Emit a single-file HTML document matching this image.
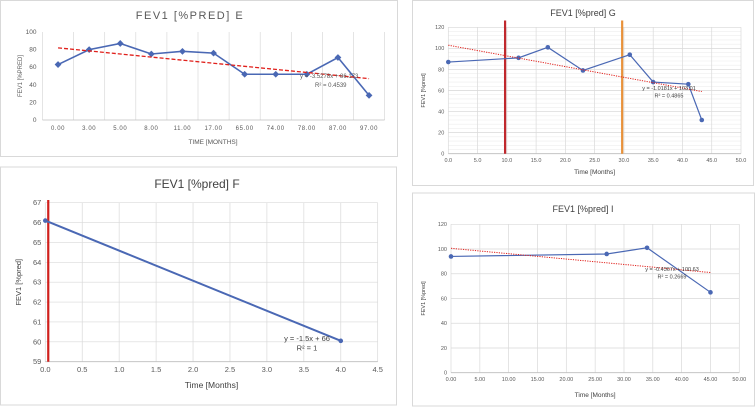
<!DOCTYPE html>
<html><head><meta charset="utf-8"><style>
html,body{margin:0;padding:0;background:#fff;}
svg{display:block;font-family:"Liberation Sans",sans-serif;}
</style></head><body>
<svg id="s" width="756" height="407" viewBox="0 0 756 407" xmlns="http://www.w3.org/2000/svg"></svg>
<script>
// Chart E
const eCats = ["0.00","3.00","5.00","8.00","11.00","17.00","65.00","74.00","78.00","87.00","97.00"];
const eVals = [63,80,87,75,78,76,52,52,52,71,28];
const eTrend = [82,47];
const eYTicks = [0,20,40,60,80,100];
// Chart G
const gX = [0,12,17,23,31,35,41,43.3];
const gY = [87,91,101,79,94,68,66,32];
const gTrend = [103.0,59];
const gMarkers = [9.7,29.7];
const gXTicks = [0,5,10,15,20,25,30,35,40,45,50];
const gYTicks = [0,20,40,60,80,100,120];
// Chart F
const fX = [0,4];
const fY = [66.1,60.05];
const fTrend = [66,60];
const fXTicks = [0,0.5,1,1.5,2,2.5,3,3.5,4,4.5];
const fYTicks = [59,60,61,62,63,64,65,66,67];
// Chart I
const iX = [0,27,34,45];
const iY = [94,96,101,65];
const iTrend = [100.6,81];
const iXTicks = [0,5,10,15,20,25,30,35,40,45,50];
const iYTicks = [0,20,40,60,80,100,120];

const svg=document.getElementById('s');
const NS="http://www.w3.org/2000/svg";
function mk(tag,attrs,parent,text){const e=document.createElementNS(NS,tag);for(const k in attrs)e.setAttribute(k,attrs[k]);if(text!==undefined)e.textContent=text;(parent||svg).appendChild(e);return e;}

// ---------- E ----------
(function(){
const g=mk('g',{});


const fr=mk('rect',{x:0.5,y:0.5,width:397,height:156,fill:'#fff',stroke:'#d9d9d9'},g);

const L=42.5,R=384.6,T=32,B=120,n=eCats.length,step=(R-L)/n;
const xs=i=>L+step*(i+0.5), ys=v=>B-(v/100)*(B-T);
for(let i=0;i<=n;i++){mk('line',{x1:L+step*i,x2:L+step*i,y1:T,y2:B,stroke:'#d9d9d9','stroke-width':0.7},g);}
eYTicks.forEach(t=>{const l=mk('text',{x:L-6,y:ys(t)+2,'font-size':6.5,fill:'#595959','text-anchor':'end'},g,t);});
mk('line',{x1:L,x2:R,y1:B,y2:B,stroke:'#bfbfbf','stroke-width':0.8},g);
eCats.forEach((c,i)=>{const l=mk('text',{x:xs(i),y:B+10,'font-size':6,fill:'#595959','text-anchor':'middle','letter-spacing':0.6},g,c);});
const tt=mk('text',{x:190,y:19,'font-size':11,fill:'#595959','text-anchor':'middle','letter-spacing':1.5},g,'FEV1 [%PRED] E');

const yt=mk('text',{x:0,y:0,'font-size':6,fill:'#595959','text-anchor':'middle',transform:`translate(22,${(T+B)/2}) rotate(-90)`},g,'FEV1 [%PRED]');

const xt=mk('text',{x:213,y:144,'font-size':6.5,fill:'#595959','text-anchor':'middle'},g,'TIME [MONTHS]');

const pts=eVals.map((v,i)=>xs(i)+','+ys(v)).join(' ');
const ln=mk('polyline',{points:pts,fill:'none',stroke:'#4a68b4','stroke-width':1.6},g);

eVals.forEach((v,i)=>{const p=mk('rect',{x:xs(i)-2.4,y:ys(v)-2.4,width:4.8,height:4.8,fill:'#4a68b4',transform:`rotate(45 ${xs(i)} ${ys(v)})`},g);});
const tr=mk('line',{x1:xs(0),y1:ys(eTrend[0]),x2:xs(n-1),y2:ys(eTrend[1]),stroke:'#e0201b','stroke-width':1.3,'stroke-dasharray':'4,2'},g);

const eq=mk('text',{x:300,y:78,'font-size':6,fill:'#595959'},g,'y = -3.5278x + 86.173');

const r2=mk('text',{x:315,y:87,'font-size':6,fill:'#595959'},g,'R² = 0.4539');

})();

// generic numeric chart
function numChart(o){
const g=mk('g',{});


const fr=mk('rect',{x:o.fx,y:o.fy,width:o.fw,height:o.fh,fill:'#fff',stroke:'#d9d9d9'},g);

const xs=v=>o.L+(v-o.xmin)/(o.xmax-o.xmin)*(o.R-o.L);
const ys=v=>o.B-(v-o.ymin)/(o.ymax-o.ymin)*(o.B-o.T);
if(o.minor){for(let v=o.ymin;v<=o.ymax;v+=o.minor){mk('line',{x1:o.L,x2:o.R,y1:ys(v),y2:ys(v),stroke:'#eeeeee','stroke-width':0.6},g);}}
o.xt.forEach(t=>{mk('line',{x1:xs(t),x2:xs(t),y1:o.T,y2:o.B,stroke:'#d9d9d9','stroke-width':0.7},g);
const l=mk('text',{x:xs(t),y:o.B+o.fs+3,'font-size':o.fs,fill:'#595959','text-anchor':'middle'},g,t.toFixed(o.dec));});
o.yt.forEach(t=>{mk('line',{x1:o.L,x2:o.R,y1:ys(t),y2:ys(t),stroke:'#d9d9d9','stroke-width':0.7},g);
const l=mk('text',{x:o.L-4,y:ys(t)+o.fs/3,'font-size':o.fs,fill:'#595959','text-anchor':'end'},g,t);});
mk('line',{x1:o.L,x2:o.R,y1:o.B,y2:o.B,stroke:'#bfbfbf','stroke-width':0.8},g);
const tt=mk('text',{x:o.tx,y:o.ty,'font-size':o.tfs,fill:'#404040','text-anchor':'middle'},g,o.title);

const yt=mk('text',{x:0,y:0,'font-size':o.fs,fill:'#404040','text-anchor':'middle',transform:`translate(${o.yx},${(o.T+o.B)/2}) rotate(-90)`},g,o.ylab);

const xt=mk('text',{x:(o.L+o.R)/2,y:o.xty,'font-size':o.fs+1,fill:'#404040','text-anchor':'middle'},g,'Time [Months]');

(o.vlines||[]).forEach((v,i)=>{const l=mk('line',{x1:xs(v),x2:xs(v),y1:o.vt,y2:o.B,stroke:o.vcol[i],'stroke-width':2.2},g);});
const pts=o.x.map((v,i)=>xs(v)+','+ys(o.y[i])).join(' ');
const ln=mk('polyline',{points:pts,fill:'none',stroke:'#4a68b4','stroke-width':o.lw},g);

o.x.forEach((v,i)=>{const p=mk('circle',{cx:xs(v),cy:ys(o.y[i]),r:2.3,fill:'#4a68b4'},g);});
if(o.trend){const tr=mk('line',{x1:xs(o.x[0]),y1:ys(o.trend[0]),x2:xs(o.x[o.x.length-1]),y2:ys(o.trend[1]),stroke:'#e0201b','stroke-width':1,'stroke-dasharray':'1.2,1.2'},g);}
const eq=mk('text',{x:o.ex,y:o.ey,'font-size':o.fs,fill:'#404040','text-anchor':'middle'},g,o.eq);

const r2=mk('text',{x:o.ex,y:o.ey+o.fs+2,'font-size':o.fs,fill:'#404040','text-anchor':'middle'},g,o.r2);

}

numChart({name:'chart-g',fx:412.5,fy:0.5,fw:341,fh:185,L:448.3,R:741,T:27.3,B:153.7,xmin:0,xmax:50,ymin:0,ymax:120,
xt:gXTicks,yt:gYTicks,dec:1,fs:5.5,minor:4,title:'FEV1 [%pred] G',tx:583,ty:16,tfs:9,ylab:'FEV1 [%pred]',yx:425,xty:174,
x:gX,y:gY,trend:gTrend,lw:1.2,vlines:gMarkers,vcol:['#c0282d','#e8913a'],vt:20.5,eq:'y = -1.0181x + 103.01',r2:'R² = 0.4865',ex:669,ey:90});

numChart({name:'chart-f',fx:0.5,fy:167,fw:396,fh:238,L:45.3,R:377.7,T:202.7,B:361.7,xmin:0,xmax:4.5,ymin:59,ymax:67,
xt:fXTicks,yt:fYTicks,dec:1,fs:7.5,title:'FEV1 [%pred] F',tx:197,ty:188,tfs:12,ylab:'FEV1 [%pred]',yx:21,xty:388,
x:fX,y:fY,trend:null,lw:2,vlines:[0.04],vcol:['#d0201c'],vt:200,eq:'y = -1.5x + 66',r2:'R² = 1',ex:307,ey:341});

numChart({name:'chart-i',fx:412.5,fy:193,fw:342,fh:213,L:451,R:739.3,T:224.3,B:372.7,xmin:0,xmax:50,ymin:0,ymax:120,
xt:iXTicks,yt:iYTicks,dec:2,fs:5.5,title:'FEV1 [%pred] I',tx:583,ty:212,tfs:9,ylab:'FEV1 [%pred]',yx:425,xty:397,
x:iX,y:iY,trend:iTrend,lw:1.2,eq:'y = -0.4367x + 100.63',r2:'R² = 0.2669',ex:672,ey:271});
</script>
</body></html>
